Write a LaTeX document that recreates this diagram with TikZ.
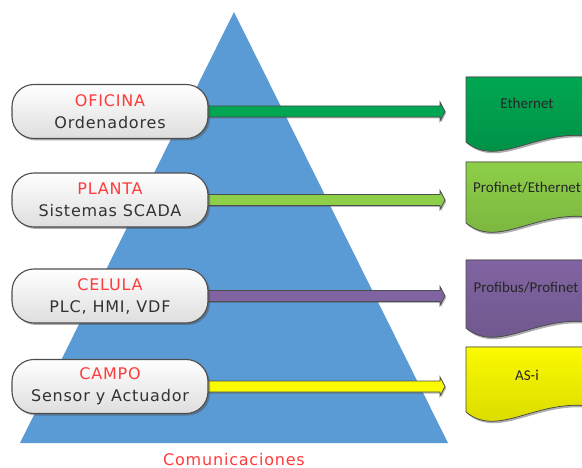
\documentclass[tikz,border=0pt]{standalone}
\usepackage{fontspec}
\setmainfont[LetterSpace=5]{DejaVu Sans}
\newfontfamily\calib{Carlito}
\usetikzlibrary{shadows,calc,backgrounds}
\definecolor{tri}{HTML}{5B9BD5}
\definecolor{lblred}{HTML}{FF3B3B}
\definecolor{txtgray}{HTML}{333333}
\definecolor{cOf}{HTML}{00A651}
\definecolor{cPl}{HTML}{8DCF48}
\definecolor{cCe}{HTML}{8064A2}
\definecolor{cCa}{HTML}{FAFA00}
\definecolor{edgec}{HTML}{4D4D4D}
\newcommand\docshape[4]{%
  \filldraw[docst, top color=#3, bottom color=#3!85!black]
    (#1) -- ++(134,0) -- ($(#1)+(134,#2-4)$)
    .. controls ($(#1)+(74,#2-18)$) and ($(#1)+(34,#2+28)$) .. ($(#1)+(0,#2)$) -- cycle;
  \node[doctext] (#4) at ($(#1)+(61,0)$) {};}
\newcommand\lvlarrow[3]{%
  \filldraw[arrst, fill=#3] let \p1=(#1.east), \p2=(#2) in
    (\x1-2pt,\y1-5.5pt) -- (\x2-26pt,\y1-5.5pt) -- (\x2-26pt,\y1-9.5pt) -- (\x2-21pt,\y1)
    -- (\x2-26pt,\y1+9.5pt) -- (\x2-26pt,\y1+5.5pt) -- (\x1-2pt,\y1+5.5pt) -- cycle;}
\begin{document}
\begin{tikzpicture}[x=1pt,y=-1pt,
  levelbox/.style={draw=edgec, line width=1.1pt, rounded corners=22pt,
    top color=white, bottom color=black!13, minimum width=196pt, minimum height=54pt,
    inner sep=0pt, align=center, font=\fontsize{16}{22}\selectfont, text=txtgray,
    drop shadow={shadow xshift=2pt, shadow yshift=-2pt, opacity=0.45, fill=black!70}},
  docst/.style={draw=edgec, line width=0.7pt,
    drop shadow={shadow xshift=1.5pt, shadow yshift=-2pt, opacity=0.45, fill=black!70}},
  doctext/.style={inner sep=0pt, minimum size=0pt},
  dtext/.style={font=\calib\fontsize{15}{16}\selectfont, text=black!85},
  arrst/.style={draw=edgec, line width=0.8pt,
    drop shadow={shadow xshift=1.2pt, shadow yshift=-1.5pt, opacity=0.4, fill=black!70}}
]
\useasboundingbox (0,0) rectangle (582,468);
\clip (0,0) rectangle (582,468);
\begin{pgfonlayer}{background}
\fill[white] (0,0) rectangle (582,468);
\fill[tri] (234,12) -- (448,443) -- (20,443) -- cycle;
\end{pgfonlayer}

\node[levelbox] (of) at (110,111.5) {\textcolor{lblred}{OFICINA}\\Ordenadores};
\node[levelbox] (pl) at (110,200) {\textcolor{lblred}{PLANTA}\\Sistemas SCADA};
\node[levelbox] (ce) at (110,296) {\textcolor{lblred}{CELULA}\\PLC, HMI, VDF};
\node[levelbox] (ca) at (110,386.5) {\textcolor{lblred}{CAMPO}\\Sensor y Actuador};

\coordinate (dOf) at (466,77);
\coordinate (dPl) at (466,162);
\coordinate (dCe) at (466,260);
\coordinate (dCa) at (466,347);
\docshape{dOf}{65}{cOf}{tOf}
\docshape{dPl}{61}{cPl}{tPl}
\docshape{dCe}{68}{cCe}{tCe}
\docshape{dCa}{65}{cCa}{tCa}
\node[dtext] (eth) at ($(dOf)+(61,26)$) {Ethernet};
\node[dtext] (pne) at ($(dPl)+(61,26)$) {Profinet/Ethernet};
\node[dtext] (pbp) at ($(dCe)+(60,28)$) {Profibus/Profinet};
\node[dtext] (asi) at ($(dCa)+(61,28)$) {AS-i};

\begin{pgfonlayer}{background}
\lvlarrow{of}{dOf}{cOf}
\lvlarrow{pl}{dPl}{cPl}
\lvlarrow{ce}{dCe}{cCe}
\lvlarrow{ca}{dCa}{cCa}
\end{pgfonlayer}

\node[anchor=base, text=lblred, font=\fontsize{16}{18}\selectfont] (com) at (234,465) {Comunicaciones};
\end{tikzpicture}
\end{document}
